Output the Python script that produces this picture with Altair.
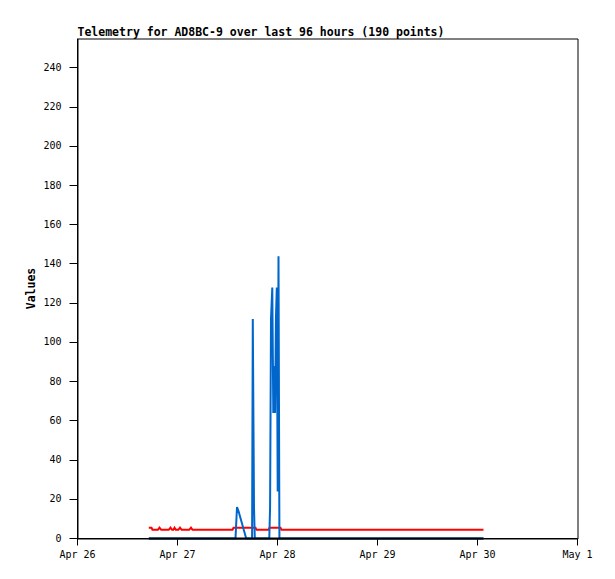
import altair as alt
import pandas as pd

BASE = pd.Timestamp("2024-04-26T00:00:00")

# hours after Apr 26 00:00 and values
RED_HOURS = [17.11, 17.76, 18.0, 19.3, 19.68, 20.1, 21.9, 22.32, 22.7, 23.0, 23.28, 23.6,
             24.2, 24.6, 25.0, 26.8, 27.24, 27.6, 37.2, 37.44, 42.72, 42.95, 45.85, 46.08,
             48.72, 48.95, 97.44]
RED_VALUES = [5.5, 5.5, 4.4, 4.4, 5.5, 4.4, 4.4, 5.5, 4.4, 4.4, 5.5, 4.4,
              4.4, 5.5, 4.4, 4.4, 5.5, 4.4, 4.4, 5.5, 5.5, 4.4, 4.4, 5.5,
              5.5, 4.4, 4.4]

BLUE_HOURS = [17.11, 37.92, 38.28, 38.64, 40.49, 41.9, 42.07, 42.36, 42.55,
              46.03, 46.22, 46.44, 46.75, 46.99, 47.23, 47.42, 47.62, 47.83, 48.05,
              48.24, 48.46, 97.44]
BLUE_VALUES = [0, 0, 16, 14, 0, 0, 112, 16, 0,
               0, 16, 112, 128, 64, 88, 64, 112, 128, 24,
               144, 0, 0]

BLACK_HOURS = [17.11, 97.44]
BLACK_VALUES = [0, 0]

Y_TICKS = [0, 20, 40, 60, 80, 100, 120, 140, 160, 180, 200, 220, 240]
TITLE = "Telemetry for AD8BC-9 over last 96 hours (190 points)"


def frame(hours, values, name):
    return pd.DataFrame({
        "time": [BASE + pd.to_timedelta(h, unit="h") for h in hours],
        "value": values,
        "series": name,
    })


red = frame(RED_HOURS, RED_VALUES, "red")
blue = frame(BLUE_HOURS, BLUE_VALUES, "blue")
black = frame(BLACK_HOURS, BLACK_VALUES, "black")

MONO = "DejaVu Sans Mono"

x_enc = alt.X(
    "time:T",
    scale=alt.Scale(domain=[alt.DateTime(year=2024, month=4, date=26),
                            alt.DateTime(year=2024, month=5, date=1)]),
    axis=alt.Axis(title=None, format="%b %-d", tickCount=alt.TickCount(interval="day", step=1),
                  grid=False, tickSize=7, labelPadding=4, labelFont=MONO, labelFontSize=10,
                  labelColor="black", domainColor="black", tickColor="black", labelFlush=False,
                  translate=0),
)
y_enc = alt.Y(
    "value:Q",
    scale=alt.Scale(domain=[0, 255], nice=False, zero=True),
    axis=alt.Axis(title="Values", values=Y_TICKS, grid=False, tickSize=8, labelPadding=8,
                  labelFont=MONO, labelFontSize=10, labelColor="black",
                  domainColor="black", tickColor="black",
                  titleFont=MONO, titleFontSize=11.5, titleFontWeight="bold", titleColor="black",
                  titleX=-46, titleY=250, titleAngle=270, titleAlign="center",
                  titleBaseline="middle", translate=0),
)


def line(df, color):
    return alt.Chart(df).mark_line(color=color, strokeWidth=2).encode(x=x_enc, y=y_enc)


chart = alt.layer(
    line(red, "#ff0000"),
    line(blue, "#0066cc"),
    line(black, "#000000"),
).properties(
    width=500,
    height=500,
    title=alt.TitleParams(TITLE, anchor="start", font=MONO, fontSize=11.5, fontWeight="bold",
                          color="black", offset=0, frame="group"),
    autosize=alt.AutoSizeParams(type="none"),
    padding={"left": 69.5, "top": 30.5, "right": 29.5, "bottom": 32.5},
    background="white",
).configure_view(stroke="#000000", strokeWidth=1, strokeOpacity=1)

chart.save("out.html", embed_options={"renderer": "svg", "actions": False})
